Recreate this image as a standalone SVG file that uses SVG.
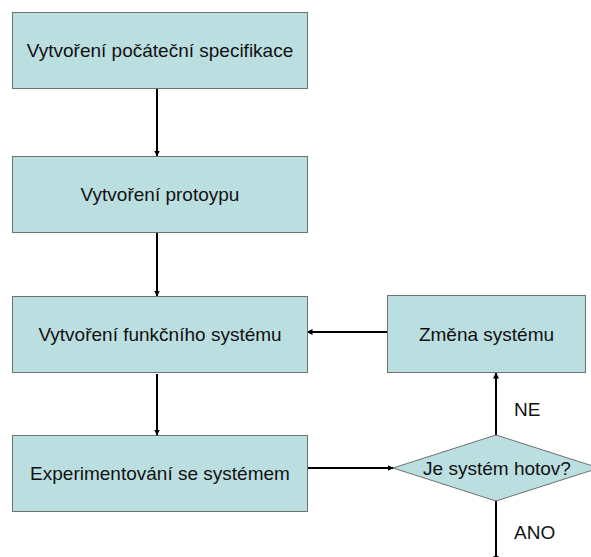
<svg xmlns="http://www.w3.org/2000/svg" width="591" height="557" viewBox="0 0 591 557">
  <style>
    .box { fill: #BBDFE1; stroke: #707070; stroke-width: 1; }
    .label { font-family: "Liberation Sans", Arial, sans-serif; font-size: 19px; fill: #111; }
    .mid { text-anchor: middle; }
    .edge { stroke: #000; stroke-width: 2; fill: none; marker-end: url(#arrow); }
  </style>
  <defs>
    <marker id="arrow" markerWidth="6" markerHeight="6" refX="5.5" refY="3" orient="auto" markerUnits="userSpaceOnUse">
      <path d="M0,0 L6,3 L0,6 Z" fill="#000"/>
    </marker>
  </defs>
  <rect width="591" height="557" fill="#fff"/>

  <g id="connectors">
    <line class="edge" x1="157" y1="89" x2="157" y2="156"/>
    <line class="edge" x1="157" y1="233" x2="157" y2="296"/>
    <line class="edge" x1="157" y1="374" x2="157" y2="435"/>
    <line class="edge" x1="308" y1="468" x2="393" y2="468"/>
    <line class="edge" x1="496" y1="435" x2="496" y2="373"/>
    <line class="edge" x1="387" y1="332" x2="307" y2="332"/>
    <line class="edge" x1="496" y1="501" x2="496" y2="561"/>
    <text class="label" x="514" y="416">NE</text>
    <text class="label" x="514" y="539">ANO</text>
  </g>

  <g id="spec">
    <rect class="box" x="12.5" y="12.5" width="295" height="76"/>
    <text class="label mid" x="160" y="57">Vytvoření počáteční specifikace</text>
  </g>
  <g id="prototype">
    <rect class="box" x="12.5" y="156.5" width="295" height="76"/>
    <text class="label mid" x="160" y="201">Vytvoření protoypu</text>
  </g>
  <g id="functional">
    <rect class="box" x="12.5" y="296.5" width="295" height="76"/>
    <text class="label mid" x="160" y="341">Vytvoření funkčního systému</text>
  </g>
  <g id="experiment">
    <rect class="box" x="12.5" y="435.5" width="295" height="76"/>
    <text class="label mid" x="160" y="480">Experimentování se systémem</text>
  </g>
  <g id="change">
    <rect class="box" x="387.5" y="295.5" width="198" height="77"/>
    <text class="label mid" x="486.5" y="341">Změna systému</text>
  </g>
  <g id="decision">
    <polygon class="box" points="496,435 599,468 496,501 393,468"/>
    <text class="label mid" x="497" y="475">Je systém hotov?</text>
  </g>
</svg>
